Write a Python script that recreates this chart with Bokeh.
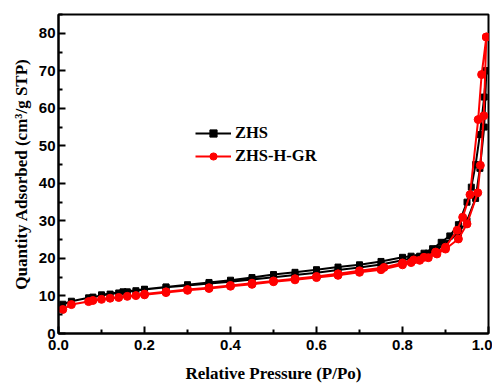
from bokeh.plotting import figure
from bokeh.models import Range1d, FixedTicker, Legend, LegendItem
from bokeh.embed import file_html
from bokeh.resources import INLINE

# ZHS (black squares): adsorption then desorption branch
zhs_ads_x = [0.01, 0.03, 0.07, 0.08, 0.10, 0.12, 0.14, 0.16, 0.18, 0.20, 0.25, 0.30, 0.35, 0.40, 0.45, 0.50,
             0.55, 0.60, 0.65, 0.70, 0.75, 0.80, 0.82, 0.84, 0.86, 0.88, 0.90, 0.93, 0.95, 0.97, 0.98, 0.99, 0.995]
zhs_ads_y = [7.8, 8.6, 9.5, 9.7, 10.1, 10.5, 10.8, 11.1, 11.4, 11.7, 12.3, 12.8, 13.3, 13.8, 14.4, 15.0,
             15.6, 16.2, 16.9, 17.6, 18.4, 19.5, 20.0, 20.6, 21.4, 22.5, 24.0, 26.8, 30.0, 36.0, 44.0, 55.0, 70.0]
zhs_des_x = [0.995, 0.99, 0.98, 0.97, 0.96, 0.95, 0.93, 0.91, 0.89, 0.87, 0.85, 0.82, 0.80, 0.75, 0.70, 0.65,
             0.60, 0.55, 0.50, 0.45, 0.40, 0.35, 0.30, 0.25, 0.20, 0.15, 0.10]
zhs_des_y = [70.0, 63.0, 53.0, 45.0, 39.0, 35.0, 29.0, 26.0, 24.3, 22.6, 21.4, 20.6, 20.3, 19.2, 18.3, 17.7,
             17.0, 16.3, 15.7, 14.9, 14.2, 13.6, 13.0, 12.4, 11.8, 11.1, 10.3]

# ZHS-H-GR (red circles)
gr_ads_x = [0.01, 0.03, 0.07, 0.08, 0.10, 0.12, 0.14, 0.16, 0.18, 0.20, 0.25, 0.30, 0.35, 0.40, 0.45, 0.50,
            0.55, 0.60, 0.65, 0.70, 0.75, 0.80, 0.82, 0.84, 0.86, 0.88, 0.90, 0.93, 0.95, 0.975, 0.981, 0.989, 0.995]
gr_ads_y = [6.4, 7.7, 8.5, 8.8, 9.1, 9.4, 9.6, 9.9, 10.1, 10.3, 10.9, 11.5, 12.0, 12.6, 13.1, 13.8,
            14.3, 14.9, 15.5, 16.3, 17.0, 18.3, 18.9, 19.5, 20.2, 21.2, 22.5, 25.2, 29.2, 37.5, 44.8, 58.0, 79.0]
gr_des_x = [0.995, 0.984, 0.976, 0.957, 0.94, 0.927, 0.90, 0.877, 0.85, 0.826, 0.80, 0.757, 0.70, 0.65,
            0.60, 0.55, 0.50, 0.45, 0.40, 0.35, 0.30, 0.25, 0.20]
gr_des_y = [79.0, 69.0, 57.0, 37.0, 31.0, 27.5, 23.0, 21.7, 20.3, 19.6, 18.8, 17.6, 16.7, 15.9,
            15.2, 14.6, 14.0, 13.4, 12.8, 12.2, 11.7, 11.1, 10.5]

x_ticks = [0.0, 0.2, 0.4, 0.6, 0.8, 1.0]
y_ticks = [0, 10, 20, 30, 40, 50, 60, 70, 80]
series_names = ["ZHS", "ZHS-H-GR"]

p = figure(width=492, height=385, output_backend="svg", toolbar_location=None,
           x_range=Range1d(0, 1.0), y_range=Range1d(0, 85),
           min_border_left=58, min_border_top=14, min_border_right=4, min_border_bottom=49,
           background_fill_color="white", border_fill_color="white")
p.xgrid.visible = False
p.ygrid.visible = False
p.outline_line_color = "black"
p.outline_line_width = 2

zx = zhs_ads_x + zhs_des_x
zy = zhs_ads_y + zhs_des_y
gx = gr_ads_x + gr_des_x
gy = gr_ads_y + gr_des_y

l1 = p.line(zx, zy, line_color="black", line_width=2)
s1 = p.scatter(zx, zy, marker="square", size=6, fill_color="black", line_color="black")
l2 = p.line(gx, gy, line_color="red", line_width=2)
s2 = p.scatter(gx, gy, marker="circle", size=8, fill_color="red", line_color="red")

legend = Legend(items=[LegendItem(label=series_names[0], renderers=[l1, s1]),
                       LegendItem(label=series_names[1], renderers=[l2, s2])],
                location=(137, 167), orientation="vertical",
                glyph_width=36, glyph_height=18, label_standoff=4, spacing=3, padding=2, margin=0,
                border_line_color=None, background_fill_alpha=0,
                label_text_font="Liberation Serif", label_text_font_style="bold",
                label_text_font_size="16.5px", label_text_color="black")
p.add_layout(legend, "center")

for ax in (p.xaxis[0], p.yaxis[0]):
    ax.axis_line_width = 2
    ax.axis_line_color = "black"
    ax.major_tick_in = 7
    ax.major_tick_out = 0
    ax.minor_tick_in = 4
    ax.minor_tick_out = 0
    ax.major_tick_line_width = 2
    ax.minor_tick_line_width = 2
    ax.major_tick_line_color = "black"
    ax.minor_tick_line_color = "black"
    ax.major_label_text_font = "Liberation Sans"
    ax.major_label_text_font_style = "bold"
    ax.major_label_text_font_size = "15px"
    ax.major_label_text_color = "black"
    ax.axis_label_text_font = "Liberation Serif"
    ax.axis_label_text_font_style = "bold"
    ax.axis_label_text_font_size = "17px"
    ax.axis_label_text_color = "black"

p.xaxis.ticker = FixedTicker(ticks=x_ticks, minor_ticks=[0.1, 0.3, 0.5, 0.7, 0.9])
p.yaxis.ticker = FixedTicker(ticks=y_ticks, minor_ticks=[5, 15, 25, 35, 45, 55, 65, 75, 85])
p.xaxis.major_label_overrides = {t: f"{t:.1f}" for t in x_ticks}
p.xaxis.major_label_standoff = 6
p.yaxis.major_label_standoff = 3
p.xaxis.axis_label = "Relative Pressure (P/Po)"
p.yaxis.axis_label = "Quantity Adsorbed (cm\u00b3/g STP)"
p.xaxis.axis_label_standoff = 11
p.yaxis.axis_label_standoff = 5

open("out.html", "w").write(file_html(p, INLINE))
